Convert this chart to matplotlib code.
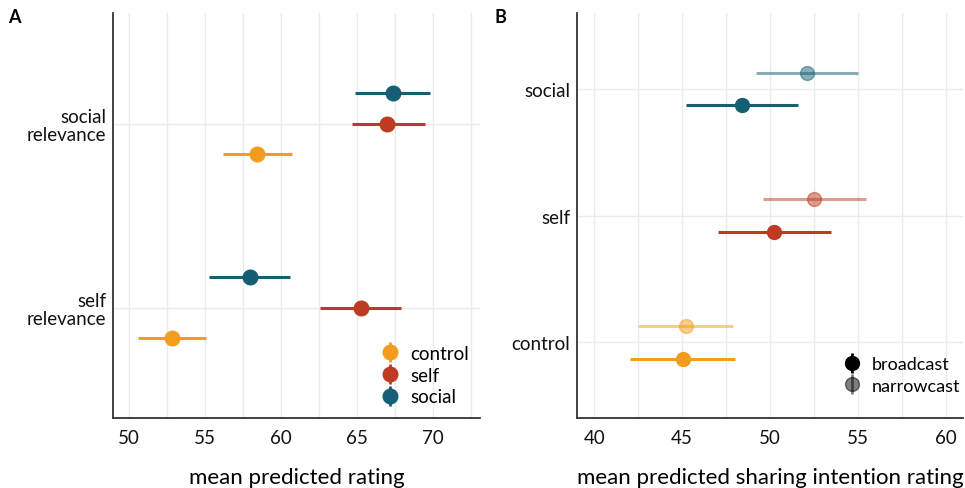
import matplotlib
matplotlib.use("Agg")
import matplotlib.pyplot as plt
from matplotlib.lines import Line2D
from matplotlib.legend_handler import HandlerTuple

plt.rcParams['font.family'] = ['Lato', 'DejaVu Sans']

# kolory warunków
cond_colors = {"control": "#F39C1F", "self": "#BE3A22", "social": "#155E73"}

# panel A
a_groups = ["self\nrelevance", "social\nrelevance"]
a_conditions = ["control", "self", "social"]
a_mean = {"control": [52.8, 58.4], "self": [65.3, 67.0], "social": [57.96, 67.35]}
a_low = {"control": [50.6, 56.2], "self": [62.6, 64.7], "social": [55.3, 64.9]}
a_high = {"control": [55.1, 60.7], "self": [67.9, 69.5], "social": [60.6, 69.8]}

# panel B
b_groups = ["control", "self", "social"]
b_modes = ["broadcast", "narrowcast"]
b_mean = {"broadcast": [45.04, 50.26, 48.43], "narrowcast": [45.23, 52.53, 52.1]}
b_low = {"broadcast": [42.06, 47.07, 45.23], "narrowcast": [42.5, 49.6, 49.19]}
b_high = {"broadcast": [48.02, 53.47, 51.6], "narrowcast": [47.9, 55.45, 55.04]}

fig = plt.figure(figsize=(9.65, 4.89), dpi=100)
axA = fig.add_axes([0.1171, 0.1431, 0.3803, 0.828])
axB = fig.add_axes([0.598, 0.1431, 0.400, 0.828])

TXT = "#111111"


def style(ax, xticks, minor):
    for s in ["top", "right"]:
        ax.spines[s].set_visible(False)
    for s in ["left", "bottom"]:
        ax.spines[s].set_color("#333333")
        ax.spines[s].set_linewidth(1.3)
    ax.set_xticks(xticks)
    ax.set_xticks(minor, minor=True)
    ax.grid(True, which="both", axis="x", color="#EBEBEB", linewidth=1.0)
    ax.grid(True, which="major", axis="y", color="#EBEBEB", linewidth=1.0)
    ax.set_axisbelow(True)
    ax.tick_params(which="both", length=0)
    ax.tick_params(axis="x", labelsize=13.5, pad=8, colors=TXT)
    ax.tick_params(axis="y", pad=5, colors=TXT)


# Panel A
offA = {"control": -0.167, "self": 0.0, "social": 0.167}
for c in a_conditions:
    ys = [i + 1 + offA[c] for i in range(len(a_groups))]
    m = a_mean[c]
    err = [[m[i] - a_low[c][i] for i in range(2)], [a_high[c][i] - m[i] for i in range(2)]]
    axA.errorbar(m, ys, xerr=err, fmt="o", color=cond_colors[c], ms=10.5,
                 elinewidth=2.2, capsize=0, zorder=3)
style(axA, [50, 55, 60, 65, 70], [52.5, 57.5, 62.5, 67.5, 72.5])
axA.set_yticks([1, 2])
axA.set_yticklabels(a_groups, fontsize=13.5, linespacing=1.05)
axA.set_ylim(0.4, 2.6)
axA.set_xlim(48.95, 73.1)
axA.set_xlabel("mean predicted rating", fontsize=16, labelpad=15, color="black")

handlesA = [(Line2D([], [], color=cond_colors[c], marker="o", ms=10.5, ls="none"),
             Line2D([], [], color=cond_colors[c], marker="|", ms=15, mew=2, ls="none"))
            for c in a_conditions]
axA.legend(handlesA, a_conditions, handler_map={tuple: HandlerTuple(ndivide=1)},
           loc="lower right", bbox_to_anchor=(1.016, -0.01), frameon=False, fontsize=13.5,
           handlelength=1.0, handletextpad=0.6, labelspacing=0.25)

# Panel B
offB = {"broadcast": -0.13, "narrowcast": 0.13}
alphaB = {"broadcast": 1.0, "narrowcast": 0.5}
for mo in b_modes:
    for i, g in enumerate(b_groups):
        m = b_mean[mo][i]
        axB.errorbar([m], [i + 1 + offB[mo]],
                     xerr=[[m - b_low[mo][i]], [b_high[mo][i] - m]], fmt="o",
                     color=cond_colors[g], ms=10, elinewidth=2.2, capsize=0,
                     alpha=alphaB[mo], zorder=3)
style(axB, [40, 45, 50, 55, 60], [42.5, 47.5, 52.5, 57.5])
axB.set_yticks([1, 2, 3])
axB.set_yticklabels(b_groups, fontsize=13.5)
axB.set_ylim(0.4, 3.6)
axB.set_xlim(39.02, 61.0)
axB.set_xlabel("mean predicted sharing intention rating", fontsize=16, labelpad=15,
               color="black")

handlesB = [(Line2D([], [], color="black", marker="o", ms=10, ls="none", alpha=alphaB[mo]),
             Line2D([], [], color="black", marker="|", ms=15, mew=2, ls="none", alpha=alphaB[mo]))
            for mo in b_modes]
axB.legend(handlesB, b_modes, handler_map={tuple: HandlerTuple(ndivide=1)},
           loc="lower right", bbox_to_anchor=(1.035, 0.02), frameon=False, fontsize=13,
           handlelength=1.0, handletextpad=0.6, labelspacing=0.3)

fig.text(0.008, 0.953, "A", fontsize=13, fontweight="bold")
fig.text(0.512, 0.953, "B", fontsize=13, fontweight="bold")

fig.savefig("out.png", dpi=100)
